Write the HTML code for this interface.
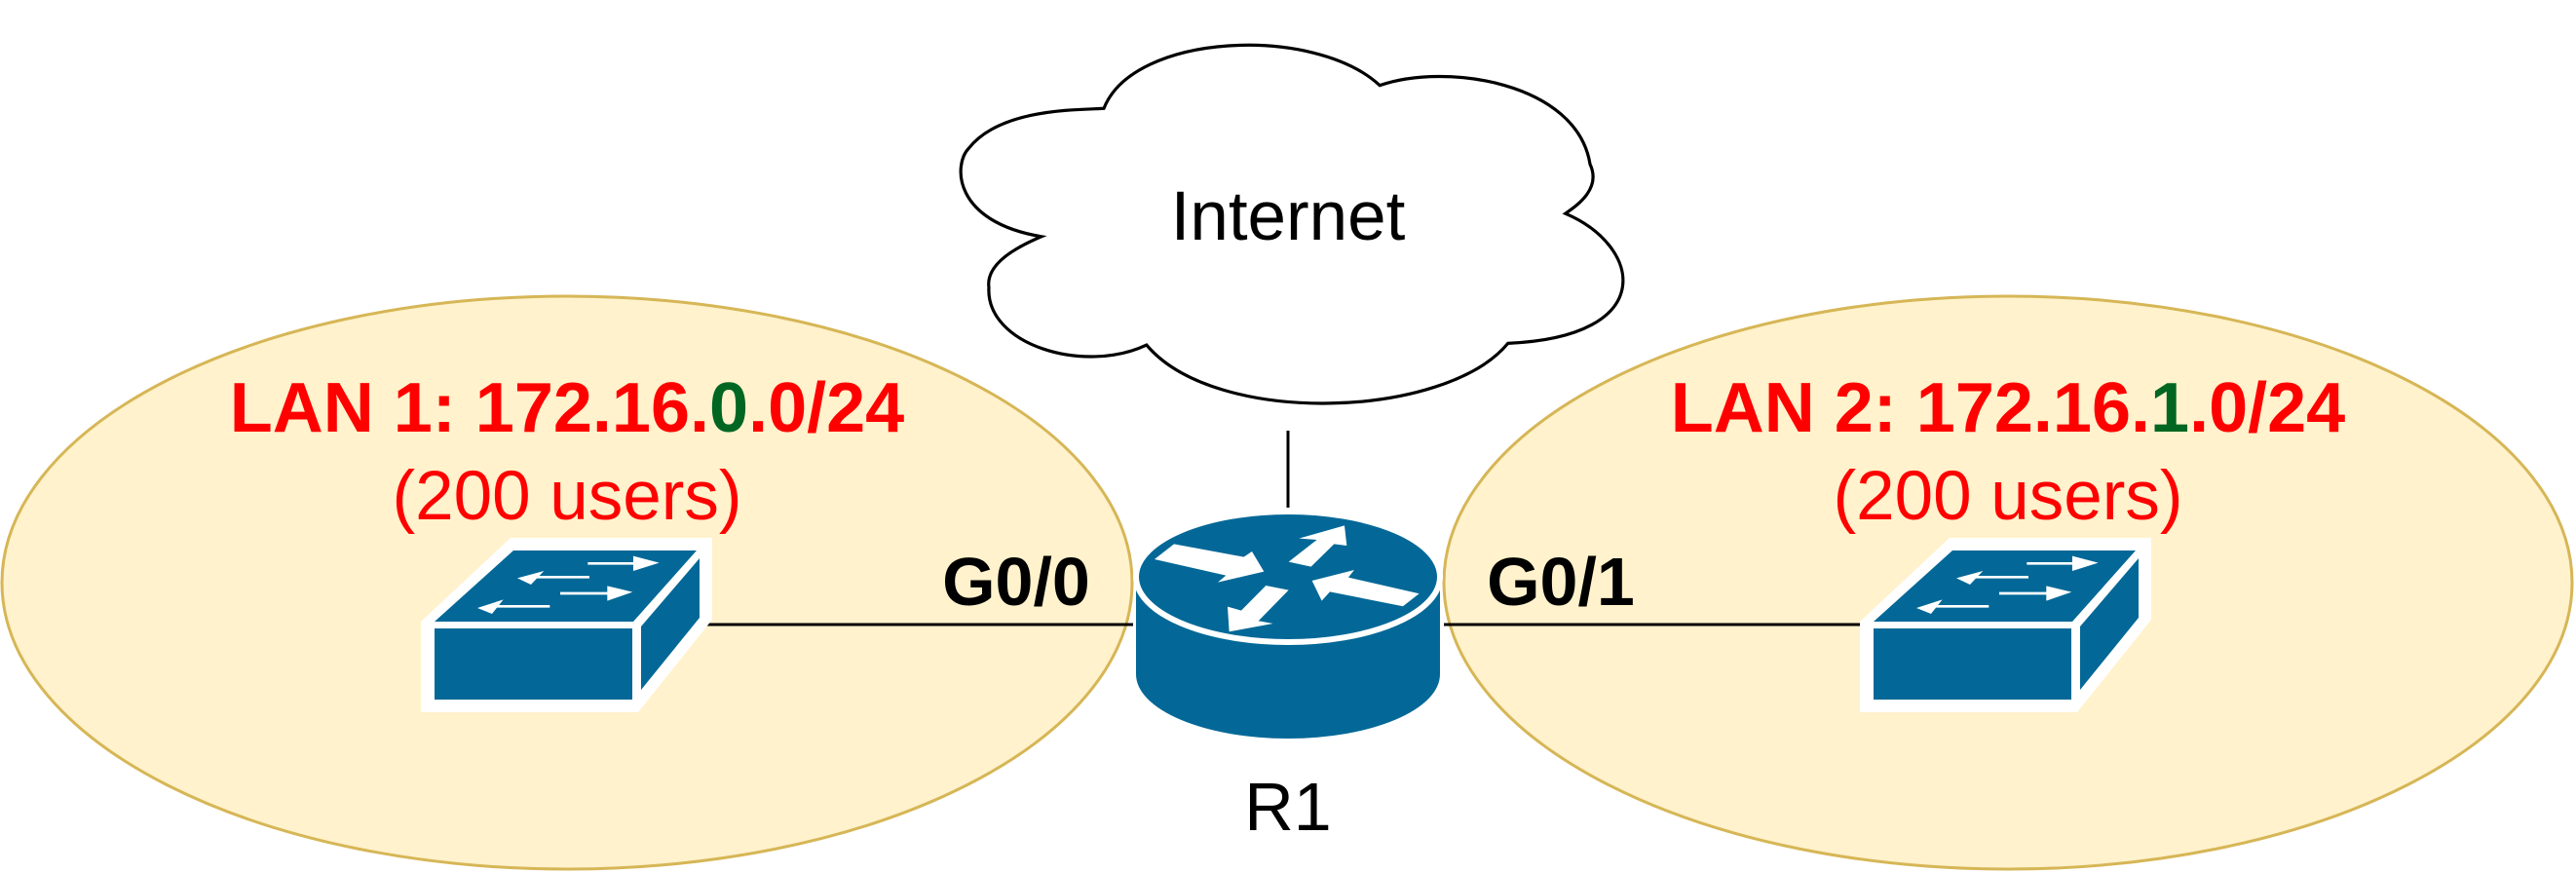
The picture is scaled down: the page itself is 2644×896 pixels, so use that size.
<!DOCTYPE html>
<html><head><meta charset="utf-8"><style>
html,body{margin:0;padding:0;background:#fff;width:2644px;height:896px;overflow:hidden}
svg text{font-family:"Liberation Sans",sans-serif}
</style></head><body>
<svg width="2644" height="896" viewBox="0 0 2644 896" xmlns="http://www.w3.org/2000/svg">
<ellipse cx="582" cy="598" rx="580" ry="294" fill="#fff2cc" stroke="#d6b656" stroke-width="3"/>
<ellipse cx="2061" cy="598" rx="579" ry="294" fill="#fff2cc" stroke="#d6b656" stroke-width="3"/>
<g transform="scale(1.686)">
<path d="M 672 66 C 690 20, 800 15, 840 52 C 880 38, 960 50, 968 100 C 975 115, 960 125, 953 130 C 1000 150, 1010 205, 918 209 C 880 255, 740 260, 698 210 C 660 228, 600 210, 602 175 C 600 160, 620 150, 634 144 C 580 135, 580 100, 590 90 C 610 65, 660 67, 672 66 Z" fill="#fff" stroke="#000" stroke-width="1.9"/>
</g>
<text x="1322" y="246" font-size="71" text-anchor="middle">Internet</text>
<line x1="1322" y1="442" x2="1322" y2="521" stroke="#000" stroke-width="3"/>
<line x1="722" y1="641" x2="1163" y2="641" stroke="#000" stroke-width="3"/>
<line x1="1482" y1="641" x2="1922" y2="641" stroke="#000" stroke-width="3"/>
<path d="M1166 592 L1166 692 A156 66 0 0 0 1478 692 L1478 592 Z" fill="#036897"/>
<ellipse cx="1322" cy="592" rx="156" ry="67" fill="#036897" stroke="#fff" stroke-width="6"/>
<g transform="translate(1100,400) scale(0.3333)" fill="#fff">
<polygon points="255,522 315,475 530,515 555,498 592,560 450,593 475,572"/>
<polygon points="668,530 755,462 700,458 840,418 847,480 808,475 737,545"/>
<polygon points="1070,628 1020,667 795,622 770,650 740,588 870,555 852,578"/>
<polygon points="668,617 598,603 522,680 480,668 485,745 620,720 575,712"/>
</g>
<g id="sw">
<polygon points="432,638 524,552 731,552 731,636 655,731 432,731" fill="#fff"/>
<polygon points="446,638 527,565 715,565 650,638" fill="#036897"/>
<rect x="446" y="645" width="203" height="73" fill="#036897"/>
<polygon points="658,643 718,573 718,634 658,708" fill="#036897"/>
<g transform="translate(400,530) scale(0.3333)" fill="#fff" stroke="#fff">
<line x1="610" y1="145" x2="770" y2="145" stroke-width="8"/><polygon points="750,122 830,143 750,168" stroke="none"/>
<line x1="615" y1="187" x2="450" y2="187" stroke-width="8"/><polygon points="475,168 393,190 435,210" stroke="none"/>
<line x1="525" y1="237" x2="690" y2="237" stroke-width="8"/><polygon points="670,214 748,233 670,260" stroke="none"/>
<line x1="493" y1="277" x2="330" y2="277" stroke-width="8"/><polygon points="350,256 270,282 315,300" stroke="none"/>
</g>
</g>
<use href="#sw" transform="translate(1477,0)"/>
<text x="582" y="443" font-size="72" font-weight="bold" text-anchor="middle" fill="#ff0000">LAN 1: 172.16.<tspan fill="#006622">0</tspan>.0/24</text>
<text x="582" y="533" font-size="71" text-anchor="middle" fill="#ff0000">(200 users)</text>
<text x="2061" y="443" font-size="72" font-weight="bold" text-anchor="middle" fill="#ff0000">LAN 2: 172.16.<tspan fill="#006622">1</tspan>.0/24</text>
<text x="2061" y="533" font-size="71" text-anchor="middle" fill="#ff0000">(200 users)</text>
<text x="1043" y="621" font-size="70" font-weight="bold" text-anchor="middle">G0/0</text>
<text x="1602" y="621" font-size="70" font-weight="bold" text-anchor="middle">G0/1</text>
<text x="1322" y="852" font-size="70" text-anchor="middle">R1</text>
</svg>
</body></html>
